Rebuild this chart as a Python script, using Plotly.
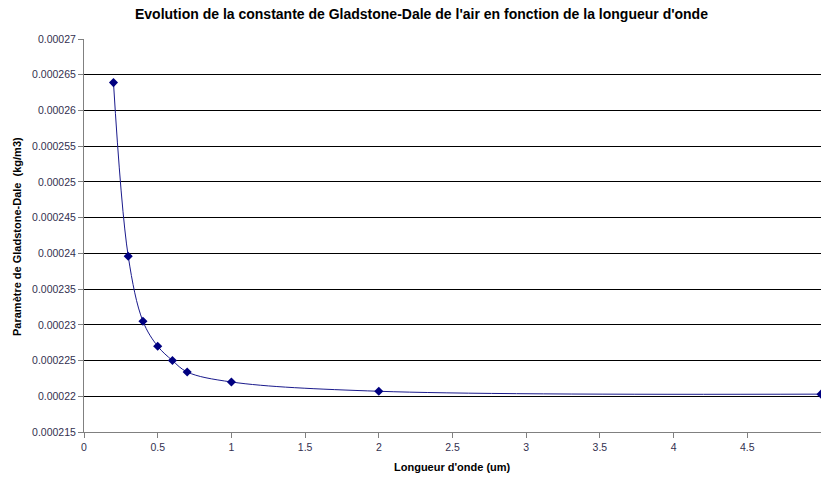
import plotly.graph_objects as go

wavelength_um = [0.2, 0.3, 0.4, 0.5, 0.6, 0.7, 1, 2, 5]
gladstone_dale = [0.0002639, 0.0002396, 0.0002305, 0.0002270, 0.0002250,
                  0.0002234, 0.0002220, 0.0002207, 0.0002203]

title_text = "Evolution de la constante de Gladstone-Dale de l'air en fonction de la longueur d'onde"
x_title = "Longueur d'onde (um)"
y_title = "Paramètre de Gladstone-Dale  (kg/m3)"

font_family = "Liberation Sans, Arial, sans-serif"
tick_color = "#33304f"
W, H = 821, 481
L, R, T, B = 84, 0, 39, 49

fig = go.Figure()
fig.add_trace(go.Scatter(
    x=wavelength_um, y=gladstone_dale,
    mode="lines+markers",
    line=dict(color="#1a1a8c", width=1, shape="spline", smoothing=1.0),
    marker=dict(symbol="diamond", size=7, color="#000080"),
    cliponaxis=False,
    showlegend=False,
))

plot_h = H - T - B
plot_w = W - L - R

fig.update_layout(
    width=W, height=H,
    margin=dict(l=L, r=R, t=T, b=B, autoexpand=False),
    paper_bgcolor="white", plot_bgcolor="white",
    font=dict(family=font_family, size=11, color="black"),
    annotations=[
        dict(text="<b>" + title_text + "</b>", xref="paper", yref="paper",
             x=(421 - L) / plot_w, y=1 + (T - 14) / plot_h,
             xanchor="center", yanchor="middle", showarrow=False,
             font=dict(size=14, family=font_family, color="black")),
        dict(text="<b>" + x_title + "</b>", xref="paper", yref="paper",
             x=0.5, y=-(467 - (H - B)) / plot_h,
             xanchor="center", yanchor="middle", showarrow=False,
             font=dict(size=11, family=font_family, color="black")),
        dict(text="<b>" + y_title + "</b>", xref="paper", yref="paper",
             x=-(L - 17) / plot_w, y=(H - B - 237) / plot_h,
             xanchor="center", yanchor="middle", showarrow=False, textangle=-90,
             font=dict(size=11, family=font_family, color="black")),
    ],
)
fig.update_xaxes(
    range=[0, 5], dtick=0.5, tick0=0, automargin=False,
    showgrid=False, zeroline=False,
    showline=True, linecolor="#808080", linewidth=1,
    ticks="outside", ticklen=5, tickcolor="#808080",
    tickfont=dict(size=10.5, color=tick_color, family=font_family),
)
fig.update_yaxes(
    range=[0.000215, 0.00027], dtick=0.000005, tick0=0.000215,
    tickformat=".6~f", automargin=False,
    showgrid=True, gridcolor="black", gridwidth=1,
    zeroline=False,
    showline=True, linecolor="#808080", linewidth=1,
    ticks="outside", ticklen=5, tickcolor="#808080",
    tickfont=dict(size=10.5, color=tick_color, family=font_family),
)

fig.write_html(
    "out.html",
    config={"displayModeBar": False},
    post_script="document.body.style.margin='0';document.body.style.overflow='hidden';",
)
